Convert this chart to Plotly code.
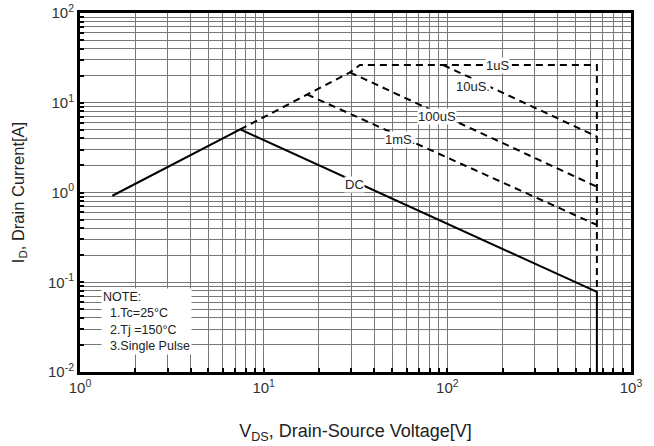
import numpy as np
import plotly.graph_objects as go

# ---- data (V in volts, I in amperes) ----
dc_v = [1.5, 7.45, 652, 652]
dc_i = [0.92, 5.05, 0.078, 0.01]

env_v = [7.45, 17.2, 29.5, 33.4, 652, 652]      # pulse envelope (1uS limit)
env_i = [5.05, 12.4, 21.8, 26.3, 26.3, 0.078]

us10_v = [95, 652]
us10_i = [26.3, 4.19]

us100_v = [29.5, 652]
us100_i = [21.8, 1.16]

ms1_v = [17.2, 652]
ms1_i = [12.4, 0.435]

label_text = ["1uS", "10uS.", "100uS", "1mS.", "DC"]
label_v = [188, 138, 87.5, 55.2, 31.4]
label_i = [26.3, 15.1, 7.0, 3.94, 1.24]

x_decades = [1, 10, 100, 1000]
y_decades = [0.01, 0.1, 1, 10, 100]
x_ticktext = ["10<sup>0</sup>", "10<sup>1</sup>", "10<sup>2</sup>", "10<sup>3</sup>"]
y_ticktext = ["10<sup>-2</sup>", "10<sup>-1</sup>", "10<sup>0</sup>", "10<sup>1</sup>", "10<sup>2</sup>"]

note_lines = ["NOTE:", "\u00a0\u00a01.Tc=25°C", "\u00a0\u00a02.Tj =150°C", "\u00a0\u00a03.Single Pulse"]

FONT = "Liberation Sans, Arial"


def log_ticks(decades, labels):
    vals, texts = [], []
    for d, lab in zip(decades, labels):
        vals.append(d)
        texts.append(lab)
        if d != decades[-1]:
            for m in range(2, 10):
                vals.append(d * m)
                texts.append("")
    return vals, texts


xv, xt = log_ticks(x_decades, x_ticktext)
yv, yt = log_ticks(y_decades, y_ticktext)

fig = go.Figure()
dash_style = dict(color="black", width=2, dash="7px,5px")
for xs, ys in [(env_v, env_i), (us10_v, us10_i), (us100_v, us100_i), (ms1_v, ms1_i)]:
    fig.add_trace(go.Scatter(x=xs, y=ys, mode="lines", line=dash_style,
                             showlegend=False, hoverinfo="skip"))
fig.add_trace(go.Scatter(x=dc_v, y=dc_i, mode="lines",
                         line=dict(color="black", width=2),
                         showlegend=False, hoverinfo="skip"))

for t, v, i in zip(label_text, label_v, label_i):
    fig.add_annotation(x=np.log10(v), y=np.log10(i), text=t, showarrow=False,
                       bgcolor="white", borderpad=0,
                       font=dict(family=FONT, size=13, color="#222"))

fig.add_annotation(xref="paper", yref="paper", x=0.039, y=0.047,
                   xanchor="left", yanchor="bottom", align="left",
                   text="<br>".join(note_lines), showarrow=False,
                   bgcolor="white", borderpad=1,
                   font=dict(family=FONT, size=12.5, color="#222"))

axis_common = dict(
    type="log", showgrid=True, gridcolor="#777", gridwidth=1,
    showline=True, linecolor="black", linewidth=3, mirror=True,
    ticks="inside", ticklen=4, tickcolor="black", tickwidth=1.5,
    tickmode="array", zeroline=False, automargin=False,
    ticklabeloverflow="allow",
    tickfont=dict(family=FONT, size=15, color="#333"),
)

fig.update_xaxes(**axis_common, tickvals=xv, ticktext=xt, range=[0, 3],
                 title=dict(text="V<sub>DS</sub>, Drain-Source Voltage[V]",
                            font=dict(family=FONT, size=18, color="#222"),
                            standoff=30))
fig.update_yaxes(**axis_common, tickvals=yv, ticktext=yt, range=[-2, 2],
                 title=dict(text="I<sub>D</sub>, Drain Current[A]",
                            font=dict(family=FONT, size=16.5, color="#222"),
                            standoff=20))

fig.update_layout(
    width=654, height=446,
    margin=dict(l=80, r=23, t=13, b=74),
    paper_bgcolor="white", plot_bgcolor="white",
)

fig.write_html("out.html",
               config={"displayModeBar": False},
               post_script="document.body.style.margin='0';document.body.style.overflow='hidden';")
